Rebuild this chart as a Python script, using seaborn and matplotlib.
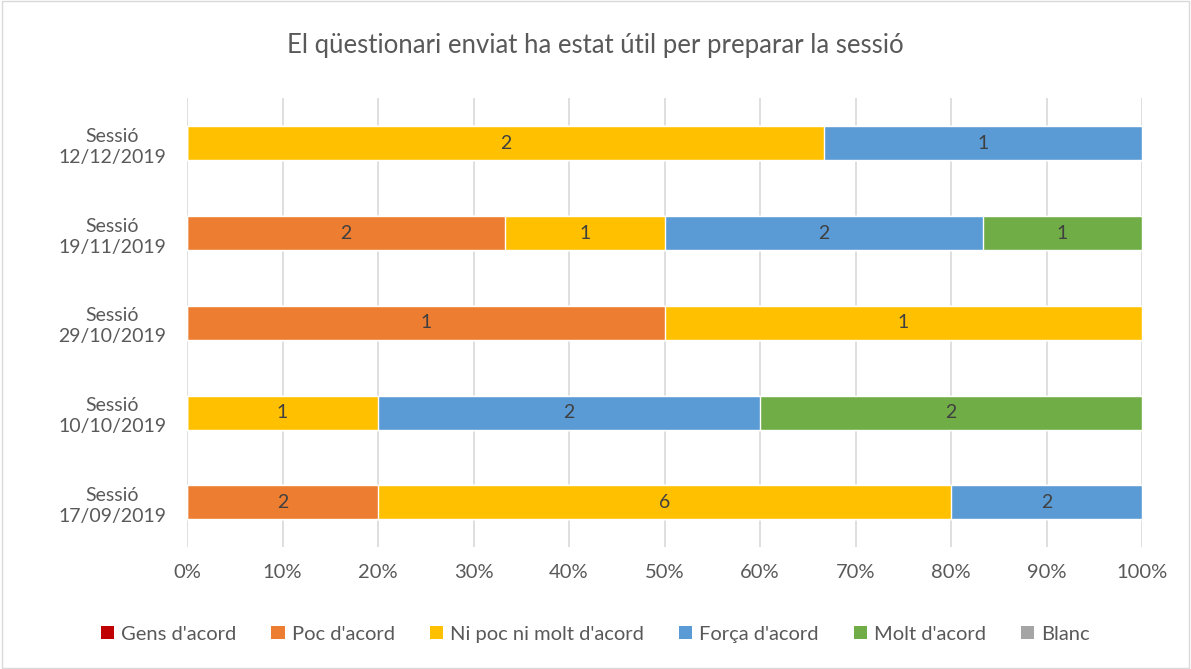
import numpy as np
import pandas as pd
import matplotlib
matplotlib.use("Agg")
import matplotlib.pyplot as plt
from matplotlib.patches import Patch, Rectangle
import seaborn as sns

sessions = ["Sessió\n12/12/2019", "Sessió\n19/11/2019", "Sessió\n29/10/2019",
            "Sessió\n10/10/2019", "Sessió\n17/09/2019"]
categories = ["Gens d'acord", "Poc d'acord", "Ni poc ni molt d'acord",
              "Força d'acord", "Molt d'acord", "Blanc"]
gens = [0, 0, 0, 0, 0]
poc = [0, 2, 1, 0, 2]
ni_poc = [2, 1, 1, 1, 6]
forca = [1, 2, 0, 2, 2]
molt = [0, 1, 0, 2, 0]
blanc = [0, 0, 0, 0, 0]
colors = ["#C00000", "#ED7D31", "#FFC000", "#5B9BD5", "#70AD47", "#A5A5A5"]
title = "El qüestionari enviat ha estat útil per preparar la sessió"

sns.set_theme(style="white")
plt.rcParams["font.family"] = ["Lato", "DejaVu Sans"]

counts = np.array([gens, poc, ni_poc, forca, molt, blanc], dtype=float)
totals = counts.sum(axis=0)
pct = counts / totals * 100
cum = np.cumsum(pct, axis=0)

fig = plt.figure(figsize=(11.91, 6.69), dpi=100)
fig.patches.append(Rectangle((0.002, 0.002), 0.996, 0.996, transform=fig.transFigure,
                             fill=False, edgecolor="#D9D9D9", linewidth=1.0))
ax = fig.add_axes([0.157, 0.182, 0.802, 0.671])

for i in range(len(categories) - 1, -1, -1):
    df = pd.DataFrame({"session": sessions, "value": cum[i]})
    sns.barplot(data=df, x="value", y="session", orient="h", color=colors[i],
                width=0.38, saturation=1, ax=ax, zorder=3)

for i in range(len(categories)):
    for j in range(len(sessions)):
        if counts[i, j] > 0:
            center = cum[i, j] - pct[i, j] / 2
            ax.text(center, j, f"{int(counts[i, j])}", ha="center", va="center",
                    fontsize=14, color="#404040", zorder=5)

ax.set_xlim(0, 100)
ax.set_ylim(4.5, -0.5)
ax.set_xticks(np.arange(0, 101, 10))
ax.set_xticklabels([f"{v}%" for v in range(0, 101, 10)])
ax.xaxis.grid(True, color="#D9D9D9", linewidth=1.2, zorder=0)
ax.set_axisbelow(True)
ax.set_xlabel("")
ax.set_ylabel("")
for s in ax.spines.values():
    s.set_visible(False)
ax.tick_params(axis="both", length=0, labelsize=14.5, labelcolor="#595959")
ax.tick_params(axis="x", pad=12)
ax.tick_params(axis="y", labelsize=14, pad=15)
for lbl in ax.get_yticklabels():
    lbl.set_multialignment("center")
    lbl.set_linespacing(1.3)

fig.text(0.5, 0.932, title, ha="center", va="center", fontsize=18.5, color="#595959")

handles = [Patch(facecolor=c, edgecolor="none") for c in colors]
fig.legend(handles, categories, loc="center", bbox_to_anchor=(0.5, 0.052), ncol=6,
           frameon=False, fontsize=14.5, handlelength=0.65, handleheight=0.65,
           columnspacing=1.75, handletextpad=0.35, labelcolor="#595959")

fig.savefig("out.png", dpi=100)
